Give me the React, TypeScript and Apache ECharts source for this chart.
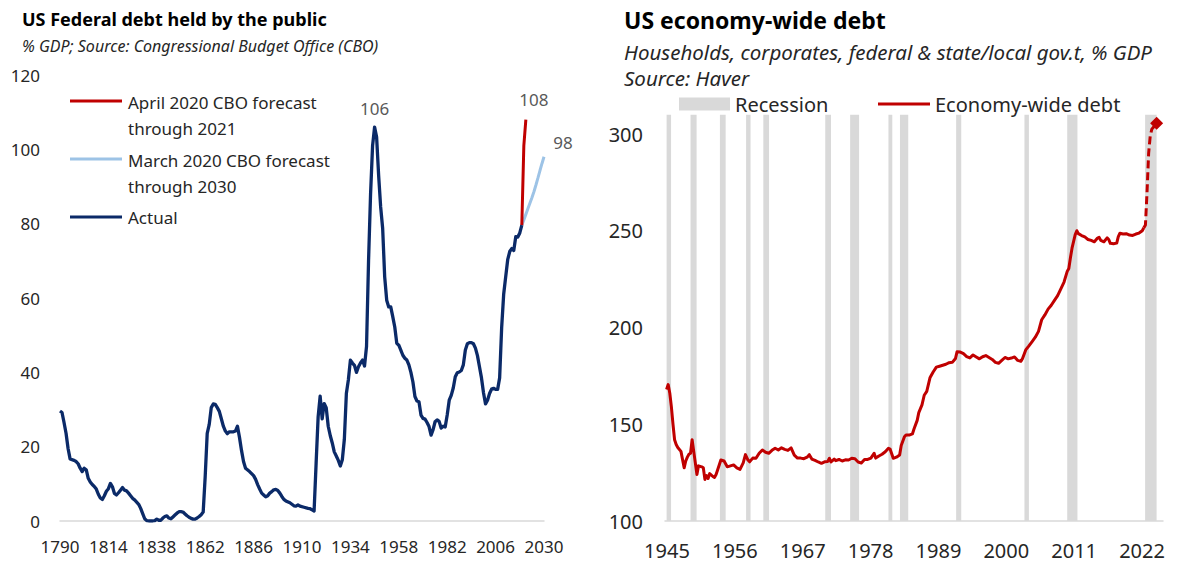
import React, { useEffect, useRef } from "react";
import * as echarts from "echarts";

// ---- US Federal debt held by the public, % GDP (annual) ----
const fedYears = [
  1790, 1791, 1792, 1793, 1794, 1795, 1797, 1798, 1799, 1800, 1801, 1802, 1803, 1804, 1805, 1806, 1807, 1808, 1809,
  1810, 1811, 1812, 1813, 1814, 1815, 1816, 1817, 1818, 1819, 1820, 1821, 1822, 1823, 1824, 1825, 1826, 1827, 1828,
  1829, 1830, 1831, 1832, 1833, 1834, 1835, 1836, 1837, 1838, 1839, 1840, 1841, 1842, 1843, 1844, 1845, 1846, 1847,
  1848, 1849, 1850, 1851, 1852, 1853, 1854, 1855, 1856, 1857, 1858, 1859, 1860, 1861, 1862, 1863, 1864, 1865, 1866,
  1867, 1868, 1869, 1870, 1871, 1872, 1873, 1874, 1876, 1877, 1878, 1879, 1880, 1881, 1882, 1884, 1886, 1887, 1888,
  1889, 1890, 1891, 1892, 1893, 1894, 1895, 1896, 1897, 1898, 1899, 1900, 1901, 1902, 1904, 1906, 1907, 1908, 1909,
  1911, 1913, 1914, 1915, 1916, 1917, 1918, 1919, 1920, 1921, 1922, 1923, 1924, 1925, 1926, 1927, 1928, 1929, 1930,
  1931, 1932, 1933, 1934, 1935, 1936, 1937, 1938, 1939, 1940, 1941, 1942, 1943, 1944, 1945, 1946, 1947, 1948, 1949,
  1950, 1951, 1952, 1953, 1954, 1955, 1956, 1957, 1958, 1959, 1960, 1961, 1962, 1963, 1964, 1965, 1966, 1967, 1968,
  1969, 1970, 1971, 1972, 1973, 1974, 1975, 1976, 1977, 1978, 1979, 1980, 1981, 1982, 1983, 1984, 1985, 1986, 1987,
  1988, 1989, 1990, 1991, 1992, 1993, 1994, 1995, 1996, 1997, 1998, 1999, 2000, 2001, 2002, 2003, 2004, 2005, 2006,
  2007, 2008, 2009, 2010, 2011, 2012, 2013, 2014, 2015, 2016, 2017, 2018, 2019,
];
const fedActual = [
  29.6, 29.2, 26.5, 23.6, 19.5, 16.7, 16.3, 16.0, 15.4, 14.2, 13.3, 14.2, 13.8, 11.5, 10.5, 9.8, 9.3, 8.6, 7.2,
  6.2, 5.8, 6.8, 8.0, 8.7, 10.1, 9.2, 7.4, 7.0, 7.6, 8.3, 9.0, 8.3, 8.1, 7.5, 6.8, 6.1, 5.7, 5.1,
  4.5, 3.4, 2.0, 0.6, 0.1, 0.0, 0.0, 0.0, 0.1, 0.5, 0.2, 0.2, 0.8, 1.2, 1.4, 0.8, 0.6, 1.1, 1.6,
  2.1, 2.5, 2.5, 2.4, 1.9, 1.4, 1.0, 0.7, 0.5, 0.5, 0.8, 1.2, 1.7, 2.4, 12.0, 23.6, 26.0, 30.5, 31.5,
  31.4, 30.5, 29.5, 27.5, 25.5, 24.2, 23.5, 24.0, 24.0, 24.2, 25.5, 22.5, 19.0, 16.0, 14.2, 13.3, 12.2, 11.2, 9.8,
  8.6, 7.5, 7.0, 6.5, 6.8, 7.5, 7.9, 8.4, 8.5, 8.2, 7.5, 6.6, 5.8, 5.4, 4.9, 4.1, 4.0, 4.3, 4.0,
  3.7, 3.4, 3.3, 3.0, 2.7, 15.5, 28.0, 33.6, 27.5, 31.6, 30.5, 25.5, 23.0, 21.0, 18.6, 17.5, 16.3, 14.8, 16.5,
  22.0, 34.3, 38.0, 43.3, 42.5, 41.9, 40.0, 41.5, 42.5, 43.3, 41.7, 47.0, 70.0, 88.0, 101.0, 106.0, 103.3, 93.0, 84.5,
  78.7, 65.7, 59.4, 57.6, 57.6, 55.0, 52.2, 47.8, 47.3, 46.0, 44.6, 43.8, 43.3, 42.0, 40.0, 37.4, 33.5, 32.3, 32.1,
  28.5, 27.6, 27.4, 26.5, 25.4, 23.1, 24.6, 26.7, 27.2, 26.8, 25.0, 25.5, 25.3, 28.5, 32.5, 33.8, 35.8, 38.8, 39.9,
  40.1, 40.5, 42.0, 46.0, 47.7, 48.0, 48.0, 47.7, 46.5, 44.5, 41.5, 38.5, 34.5, 31.5, 32.5, 34.3, 35.5, 35.7, 35.4,
  35.4, 38.5, 52.0, 61.0, 65.7, 70.3, 72.5, 73.3, 72.8, 76.5, 76.4, 77.5, 79.6,
];
const aprilYears = [2019, 2020, 2021];
const aprilForecast = [79.6, 101, 108];
const marchYears = [2019, 2020, 2021, 2022, 2023, 2024, 2025, 2026, 2027, 2028, 2029, 2030];
const marchForecast = [79.6, 81.0, 82.5, 84.0, 85.5, 87.0, 88.6, 90.4, 92.3, 94.3, 96.2, 98];
const fedXTicks = [1790, 1814, 1838, 1862, 1886, 1910, 1934, 1958, 1982, 2006, 2030];

// ---- US economy-wide debt, % GDP (quarterly, fractional years) ----
const econDates = [
  1945.25, 1945.5, 1945.75, 1946.0, 1946.25, 1946.5, 1946.75, 1947.0, 1947.5, 1948.0, 1948.25, 1948.5, 1948.75,
  1949.0, 1949.25, 1949.5, 1950.0, 1950.25, 1950.75, 1951.0, 1951.25, 1951.5, 1951.75, 1952.0, 1952.5, 1952.75,
  1953.0, 1953.25, 1953.75, 1954.25, 1954.75, 1955.25, 1955.75, 1956.25, 1956.75, 1957.25, 1957.6, 1958.0, 1958.25,
  1958.75, 1959.25, 1959.75, 1960.25, 1960.75, 1961.25, 1961.75, 1962.25, 1962.75, 1963.25, 1963.75, 1964.25,
  1964.75, 1965.25, 1965.75, 1966.25, 1966.75, 1967.25, 1967.6, 1968.0, 1968.5, 1969.0, 1969.5, 1970.0, 1970.5,
  1970.75, 1971.0, 1971.5, 1971.75, 1972.25, 1972.75, 1973.25, 1973.75, 1974.25, 1974.75, 1975.25, 1975.75,
  1976.25, 1976.75, 1977.25, 1977.75, 1978.0, 1978.5, 1979.0, 1979.5, 1980.0, 1980.25, 1980.75, 1981.25, 1981.75,
  1982.0, 1982.5, 1982.75, 1983.25, 1983.75, 1984.0, 1984.5, 1984.75, 1985.25, 1985.6, 1986.0, 1986.5, 1987.0,
  1987.5, 1988.0, 1988.5, 1989.0, 1989.5, 1990.0, 1990.5, 1990.75, 1991.25, 1991.75, 1992.25, 1992.75, 1993.25,
  1993.75, 1994.25, 1994.75, 1995.25, 1995.75, 1996.25, 1996.75, 1997.25, 1997.75, 1998.25, 1998.75, 1999.25,
  1999.75, 2000.25, 2000.75, 2001.0, 2001.5, 2002.0, 2002.5, 2003.0, 2003.5, 2004.0, 2004.5, 2005.0, 2005.5,
  2006.0, 2006.5, 2007.0, 2007.5, 2008.0, 2008.25, 2008.5, 2008.75, 2009.25, 2009.5, 2009.75, 2010.25, 2010.75,
  2011.25, 2011.75, 2012.25, 2012.75, 2013.0, 2013.25, 2013.75, 2014.25, 2014.5, 2014.75, 2015.25, 2015.75,
  2016.0, 2016.25, 2016.75, 2017.25, 2017.75, 2018.25, 2018.75, 2019.25, 2019.75, 2020.0,
];
const econDebt = [
  168, 170.5, 166, 159, 150, 142, 139.5, 138, 136, 127.5, 131, 133, 134.5,
  135, 142, 136, 124, 128.5, 128, 127.5, 121.5, 123.5, 122, 124.5, 123, 122.5,
  124, 126.5, 131.5, 131, 128, 128.5, 129, 127.5, 126.7, 130, 134.3, 131.5, 130.6,
  132.5, 132.4, 135, 136.7, 135.5, 135, 136.5, 137.6, 136.7, 137.8, 137, 136.5,
  137.8, 134, 132.5, 132.5, 132.2, 133, 134.3, 132, 131.3, 130.5, 129.8, 130.6, 130.8,
  132.4, 130.5, 132, 131.2, 131.8, 131, 131.6, 131.5, 132.4, 132.2, 130.5, 130,
  131.8, 131.8, 132.5, 135, 132.5, 133.6, 134.5, 135.8, 137.6, 137.2, 132.4, 133, 134.1,
  139, 143.5, 144.4, 144.4, 145, 147.5, 152, 156, 160, 165, 167, 174, 177,
  179.5, 180, 180.5, 181, 181.8, 182, 184, 187.5, 187.3, 186.5, 185, 184.3, 185.8,
  184.8, 183.8, 184.9, 185.5, 184.5, 183.5, 182, 181.5, 183, 184.5, 183.8, 184.2,
  184.8, 183, 182.5, 184, 188.4, 190.5, 192.7, 195, 198, 204, 206.5, 209.5, 211.5,
  214, 216.5, 220, 223.5, 229, 230.5, 236, 241, 248, 250, 248.5, 247.5, 246.8,
  245.5, 245, 244.3, 246.2, 246.6, 245, 244.3, 246.3, 245.5, 243.5, 243.3, 243.6,
  247, 248.7, 248.3, 248.5, 247.8, 247.6, 248.3, 248.8, 250, 251.5,
];
const econDatesLatest = [2020.0, 2020.25, 2020.5, 2020.75, 2021.0, 2021.25, 2021.5, 2022.0];
const econDebtLatest = [251.5, 253, 270, 290, 299, 302.5, 303.5, 305.5];
const recessionStart = [1945.25, 1949.0, 1953.6, 1957.7, 1960.4, 1970.1, 1974.0, 1980.0, 1981.8, 1990.6, 2001.3, 2008.0, 2020.2];
const recessionEnd = [1945.95, 1949.95, 1954.5, 1958.4, 1961.3, 1971.0, 1975.4, 1980.6, 1983.1, 1991.4, 2002.0, 2009.6, 2022.0];
const econXTicks = [1945, 1956, 1967, 1978, 1989, 2000, 2011, 2022];
const econYTicks = [100, 150, 200, 250, 300];
const econYMin = 100;
const econYMax = 310;

const FONT = '"Noto Sans", "Open Sans", sans-serif';
const NAVY = "#0B2A68";
const RED = "#C00000";
const LIGHT_BLUE = "#9DC3E6";
const GREY = "#D9D9D9";
const TEXT = "#262626";
const NOTE = "#595959";

function pairs(xs: number[], ys: number[]) {
  return xs.map((x, i) => [x, ys[i]]);
}

// value label attached to one point of a line (an invisible symbol carries it)
function labelled(x: number, y: number, distance: number, offset: number[]) {
  return {
    value: [x, y],
    symbol: "circle",
    symbolSize: 2,
    itemStyle: { color: "transparent", borderWidth: 0 },
    label: {
      show: true,
      position: "top",
      distance,
      offset,
      formatter: (p: any) => String(p.value[1]),
      fontSize: 17,
      color: NOTE,
      fontFamily: FONT,
    },
  };
}

export default function App() {
  const ref = useRef<HTMLDivElement>(null);

  useEffect(() => {
    if (!ref.current) return;
    const chart = echarts.init(ref.current, null, { renderer: "svg" });

    const peakIdx = fedActual.indexOf(Math.max(...fedActual));
    const actualData = fedYears.map((y, i) =>
      i === peakIdx ? labelled(y, fedActual[i], 9, [0, 0]) : [y, fedActual[i]]
    );
    const lastLabelled = (xs: number[], ys: number[], distance: number, offset: number[]) =>
      xs.map((x, i) => (i === xs.length - 1 ? labelled(x, ys[i], distance, offset) : [x, ys[i]]));

    const latestData = econDatesLatest.map((x, i) =>
      i === econDatesLatest.length - 1
        ? { value: [x, econDebtLatest[i]], symbol: "diamond", symbolSize: 13, itemStyle: { color: RED } }
        : [x, econDebtLatest[i]]
    );

    const legendLine = (y: number, color: string) => ({
      type: "line",
      shape: { x1: 70, y1: y, x2: 122, y2: y },
      style: { stroke: color, lineWidth: 3 },
    });
    const legendText = (y: number, text: string) => ({
      type: "text",
      x: 128,
      y,
      style: { text, font: `17px ${FONT}`, lineHeight: 26, fill: TEXT },
    });

    const econPlotTop = 521 - (econYMax - econYMin) * 1.935;

    chart.setOption({
      animation: false,
      textStyle: { fontFamily: FONT },
      title: [
        {
          text: "US Federal debt held by the public",
          subtext: "% GDP; Source: Congressional Budget Office (CBO)",
          left: 22,
          top: 7,
          padding: 0,
          itemGap: 5,
          textStyle: { fontSize: 18, fontWeight: "bold", color: "#000", lineHeight: 24, fontFamily: FONT },
          subtextStyle: { fontSize: 16, fontStyle: "italic", color: TEXT, lineHeight: 20, fontFamily: FONT },
        },
        {
          text: "US economy-wide debt",
          subtext: "Households, corporates, federal & state/local gov.t, % GDP\nSource: Haver",
          left: 624,
          top: 6,
          padding: 0,
          itemGap: 5,
          textStyle: { fontSize: 23, fontWeight: "bold", color: "#000", lineHeight: 28, fontFamily: FONT },
          subtextStyle: { fontSize: 20.5, fontStyle: "italic", color: TEXT, lineHeight: 26, fontFamily: FONT },
        },
      ],
      legend: [
        {
          left: 674,
          top: 89,
          itemWidth: 51,
          itemHeight: 13,
          icon: "rect",
          textStyle: { fontSize: 20, color: TEXT, fontFamily: FONT },
          data: [{ name: "Recession", itemStyle: { color: GREY } }],
        },
        {
          left: 873,
          top: 89,
          itemWidth: 52,
          itemHeight: 3,
          icon: "rect",
          textStyle: { fontSize: 20, color: TEXT, fontFamily: FONT },
          data: [{ name: "Economy-wide debt", itemStyle: { color: RED } }],
        },
      ],
      grid: [
        { left: 60, top: 75, width: 484, height: 446 },
        { left: 665, top: econPlotTop, width: 498, height: 521 - econPlotTop },
      ],
      xAxis: [
        {
          type: "value",
          gridIndex: 0,
          min: 1790,
          max: 2030,
          axisLine: { show: true, lineStyle: { color: GREY, width: 1.5 } },
          axisTick: { show: false },
          splitLine: { show: false },
          axisLabel: {
            customValues: fedXTicks,
            formatter: (v: number) => String(v),
            fontSize: 17,
            color: TEXT,
            margin: 17,
          },
        },
        {
          // time scale of the quarterly data
          type: "value",
          gridIndex: 1,
          position: "bottom",
          min: 1945,
          max: 2023,
          axisLine: { show: true, lineStyle: { color: GREY, width: 1.5 } },
          axisTick: { show: false },
          splitLine: { show: false },
          axisLabel: { show: false },
        },
        {
          // year labels, evenly spread under the plot
          type: "value",
          gridIndex: 1,
          position: "bottom",
          offset: 0,
          min: 1944.68,
          max: 2025.4,
          axisLine: { show: false },
          axisTick: { show: false },
          splitLine: { show: false },
          axisLabel: {
            customValues: econXTicks,
            formatter: (v: number) => String(v),
            fontSize: 20,
            color: TEXT,
            margin: 19,
          },
        },
      ],
      yAxis: [
        {
          type: "value",
          gridIndex: 0,
          min: 0,
          max: 120,
          interval: 20,
          axisLine: { show: false },
          axisTick: { show: false },
          splitLine: { show: false },
          axisLabel: { fontSize: 17, color: TEXT, margin: 20 },
        },
        {
          type: "value",
          gridIndex: 1,
          min: econYMin,
          max: econYMax,
          axisLine: { show: false },
          axisTick: { show: false },
          splitLine: { show: false },
          axisLabel: {
            customValues: econYTicks,
            formatter: (v: number) => String(v),
            fontSize: 20,
            color: TEXT,
            margin: 22,
          },
        },
      ],
      series: [
        {
          name: "March 2020 CBO forecast through 2030",
          type: "line",
          xAxisIndex: 0,
          yAxisIndex: 0,
          data: lastLabelled(marchYears, marchForecast, 5, [19, 0]),
          symbol: "none",
          lineStyle: { color: LIGHT_BLUE, width: 3 },
          itemStyle: { color: LIGHT_BLUE },
          z: 2,
        },
        {
          name: "April 2020 CBO forecast through 2021",
          type: "line",
          xAxisIndex: 0,
          yAxisIndex: 0,
          data: lastLabelled(aprilYears, aprilForecast, 5, [8, -6]),
          symbol: "none",
          lineStyle: { color: RED, width: 3 },
          itemStyle: { color: RED },
          z: 3,
        },
        {
          name: "Actual",
          type: "line",
          xAxisIndex: 0,
          yAxisIndex: 0,
          data: actualData,
          symbol: "none",
          lineStyle: { color: NAVY, width: 3.3, join: "round" },
          itemStyle: { color: NAVY },
          z: 4,
        },
        {
          name: "Recession",
          type: "custom",
          xAxisIndex: 1,
          yAxisIndex: 1,
          data: recessionStart.map((s, i) => [s, recessionEnd[i]]),
          encode: { x: [0, 1] },
          itemStyle: { color: GREY },
          silent: true,
          z: 1,
          renderItem: (_params: any, api: any) => {
            const p0 = api.coord([api.value(0), econYMax]);
            const p1 = api.coord([api.value(1), econYMin]);
            return {
              type: "rect",
              shape: { x: p0[0], y: p0[1], width: p1[0] - p0[0], height: p1[1] - p0[1] },
              style: { fill: GREY },
            };
          },
        },
        {
          name: "Economy-wide debt",
          type: "line",
          xAxisIndex: 1,
          yAxisIndex: 1,
          data: pairs(econDates, econDebt),
          symbol: "none",
          lineStyle: { color: RED, width: 3, join: "round" },
          itemStyle: { color: RED },
          z: 3,
        },
        {
          name: "Economy-wide debt, latest",
          type: "line",
          xAxisIndex: 1,
          yAxisIndex: 1,
          data: latestData,
          symbol: "none",
          showSymbol: true,
          lineStyle: { color: RED, width: 3, type: [8, 4] },
          itemStyle: { color: RED },
          z: 3,
        },
      ],
      graphic: [
        legendLine(101, RED),
        legendText(89, "April 2020 CBO forecast\nthrough 2021"),
        legendLine(159, LIGHT_BLUE),
        legendText(147, "March 2020 CBO forecast\nthrough 2030"),
        legendLine(217, NAVY),
        legendText(204, "Actual"),
      ],
    });

    return () => chart.dispose();
  }, []);

  return (
    <div
      ref={ref}
      style={{ position: "fixed", left: 0, top: 0, width: 1185, height: 564, background: "#fff" }}
    />
  );
}
